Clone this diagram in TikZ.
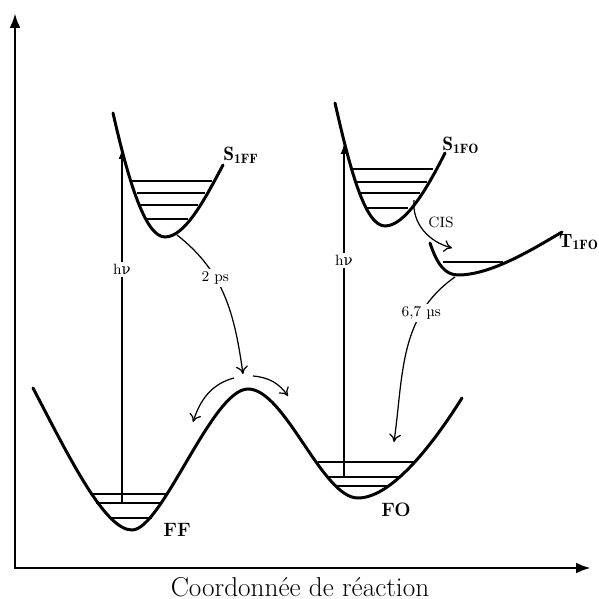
\documentclass[tikz,border=0pt]{standalone}
\usepackage{fontspec}
\newfontfamily\grkfont{DejaVu Serif}
\usetikzlibrary{arrows.meta, positioning}
\tikzset{
  pes/.style={line width=1.7pt, line cap=round},
  niveau/.style={line width=0.8pt},
  axe/.style={
    {Latex[length=3mm,width=2.2mm]}-{Latex[length=3mm,width=2.2mm]},
    line width=1.7pt
  },
  absarr/.style={-{Latex[length=2mm,width=1.4mm]}, line width=1pt},
  relarr/.style={-{To[length=1.6mm,width=2.4mm]}, line width=0.7pt},
  etat/.style={font=\fontsize{11}{13}\selectfont\bfseries, inner sep=1pt},
  tlabel/.style={font=\fontsize{8.5}{10}\selectfont, fill=white, inner sep=1.5pt},
  axlabel/.style={font=\fontsize{15.5}{18}\selectfont, inner sep=0pt}
}
\newcommand{\hnu}{h{\grkfont ν}}

\begin{document}
\begin{tikzpicture}[x=0.02cm, y=0.02cm]
  \useasboundingbox (0,0) rectangle (599,599);

  %% ── Axes ─────────────────────────────────────────────
  \coordinate (ytop) at (15,586);
  \coordinate (orig) at (15,31);
  \coordinate (xend) at (591,31);
  \draw[axe] (ytop) -- (orig) -- (xend);
  \node[axlabel] (xlab) at (300,12) {Coordonnée de réaction};

  %% ── Ground state: FF / FO double well ────────────────
  \draw[pes] (33,211) .. controls (70,140) and (105,69) .. (132,69)
    .. controls (162,69) and (212,210) .. (248,210)
    .. controls (285,210) and (322,101) .. (358,101)
    .. controls (390,101) and (430,150) .. (462,201);
  \foreach \y/\xa/\xb in {105/90/167, 96/96/162, 81/110/152}
    \draw[niveau] (\xa,\y) -- (\xb,\y);
  \foreach \y/\xa/\xb in {137/318/415, 122/329/400, 113/336/389}
    \draw[niveau] (\xa,\y) -- (\xb,\y);
  \node[etat] (ff) at (177,69) {FF};
  \node[etat] (fo) at (396,89) {FO};

  %% ── S1 of FF ─────────────────────────────────────────
  \draw[pes] (113,486) .. controls (128,420) and (145,362) .. (165,362)
    .. controls (185,362) and (205,400) .. (223,434);
  \foreach \y/\xa/\xb in {418/132/212, 406/137/205, 394/140/198, 380/147/188}
    \draw[niveau] (\xa,\y) -- (\xb,\y);
  \node[etat] (s1ff) at (241,444) {$\mathbf{S}_{\mathbf{1FF}}$};

  %% ── S1 and T1 of FO ──────────────────────────────────
  \draw[pes] (335,496) .. controls (350,430) and (365,373) .. (385,373)
    .. controls (405,373) and (427,410) .. (445,446);
  \foreach \y/\xa/\xb in {430/353/433, 417/357/427, 406/359/420, 391/367/408}
    \draw[niveau] (\xa,\y) -- (\xb,\y);
  \node[etat] (s1fo) at (461,454) {$\mathbf{S}_{\mathbf{1FO}}$};

  \draw[pes] (430,356) .. controls (437,335) and (445,324) .. (458,324)
    .. controls (490,324) and (530,348) .. (562,367);
  \draw[niveau] (443,337) -- (503,337);
  \node[etat] (t1fo) at (579,357) {$\mathbf{T}_{\mathbf{1FO}}$};

  %% ── Absorption ───────────────────────────────────────
  \coordinate (ffbas) at (122,96);
  \coordinate (ffhaut) at (122,450);
  \coordinate (fobas) at (344,122);
  \coordinate (fohaut) at (344,455);
  \draw[absarr] (ffbas) -- node[tlabel, pos=0.66] (hvff) {\hnu} (ffhaut);
  \draw[absarr, line width=0.8pt] (fobas) -- node[tlabel, pos=0.65] (hvfo) {\hnu} (fohaut);

  %% ── Relaxation arrows ────────────────────────────────
  \coordinate (ffdep) at (177,364);
  \coordinate (col) at (243,225);
  \draw[relarr] (ffdep) to[out=-38, in=98]
    node[tlabel, pos=0.36] (tps) {2 ps} (col);

  \coordinate (colg) at (234,221);
  \coordinate (colgfin) at (193,177);
  \draw[relarr] (colg) to[out=195, in=72] (colgfin);
  \coordinate (cold) at (253,223);
  \coordinate (coldfin) at (288,203);
  \draw[relarr] (cold) to[out=-5, in=125] (coldfin);

  \coordinate (cisdep) at (414,399);
  \coordinate (cisfin) at (452,351);
  \draw[relarr] (cisdep) to[out=-95, in=165] (cisfin);
  \node[font=\fontsize{8.5}{10}\selectfont, inner sep=0pt] (cis) at (441,377) {CIS};

  \coordinate (t1dep) at (455,322);
  \coordinate (fofin) at (394,157);
  \draw[relarr] (t1dep) to[out=-145, in=82]
    node[tlabel, pos=0.27] (tus) {6,7 µs} (fofin);
\end{tikzpicture}
\end{document}
